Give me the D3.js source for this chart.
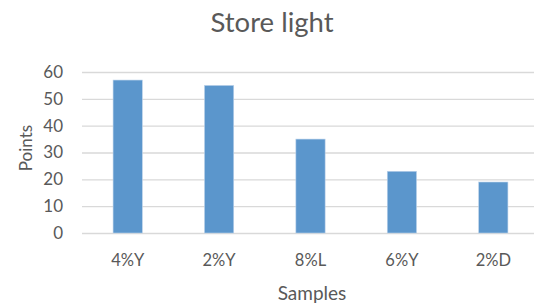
<!DOCTYPE html>
<html><head><meta charset="utf-8">
<script src="https://cdn.jsdelivr.net/npm/d3@7"></script>
<style>body{margin:0;background:#fff}text{font-family:Lato,"Open Sans",sans-serif;fill:#595959}</style>
</head><body>
<svg id="c" width="534" height="307"></svg>
<script>
const categories = ["4%Y","2%Y","8%L","6%Y","2%D"];
const values = [57,55,35,23,19];
const yTicks = [0,10,20,30,40,50,60];
const title = "Store light";
const xTitle = "Samples";
const yTitle = "Points";

const svg = d3.select("#c");
const mLeft = 82, mRight = 539, mTop = 72, mBottom = 233;
const x = d3.scaleBand().domain(categories).range([mLeft,mRight]).paddingInner(0.68).paddingOuter(0.34);
const y = d3.scaleLinear().domain([0,60]).range([mBottom,mTop]);

const ya = svg.append("g").attr("transform",`translate(${mLeft},0)`)
  .call(d3.axisLeft(y).tickValues(yTicks).tickSize(-(mRight-mLeft)).tickPadding(19));
ya.select(".domain").remove();
ya.selectAll("line").attr("stroke","#d9d9d9").attr("stroke-width",1.3);
ya.selectAll("text").style("font-size","17px").attr("fill","#595959");

svg.append("g").selectAll("rect").data(values).join("rect")
  .attr("x",(d,i)=>x(categories[i])).attr("width",x.bandwidth())
  .attr("y",d=>y(d)).attr("height",d=>y(0)-y(d))
  .attr("fill","#5b96cc").attr("stroke","#bcd3ea").attr("stroke-width",0.6);

const xa = svg.append("g").attr("transform",`translate(0,${mBottom})`)
  .call(d3.axisBottom(x).tickSize(0).tickPadding(21));
xa.select(".domain").remove();
xa.selectAll("text").style("font-size","16.5px").attr("fill","#595959");

svg.append("text").attr("x",272).attr("y",32).attr("text-anchor","middle").style("font-size","27.5px").text(title);
svg.append("text").attr("x",312).attr("y",300).attr("text-anchor","middle").style("font-size","19px").text(xTitle);
svg.append("text").attr("transform",`translate(31.5,148) rotate(-90)`).attr("text-anchor","middle").style("font-size","17px").text(yTitle);
</script>
</body></html>
